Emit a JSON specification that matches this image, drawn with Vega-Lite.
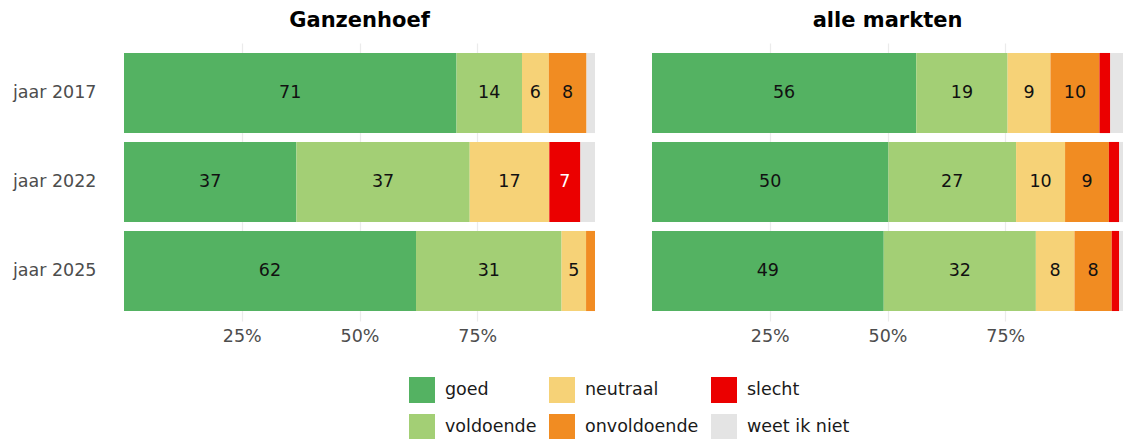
{
  "$schema": "https://vega.github.io/schema/vega-lite/v6.json",
  "padding": {"left": 12, "top": 10, "right": 0, "bottom": 0},
  "data": {"values": [
    {"markt": "Ganzenhoef", "jaar": "jaar 2017", "oordeel": "goed", "value": 70.6},
    {"markt": "Ganzenhoef", "jaar": "jaar 2017", "oordeel": "voldoende", "value": 13.9},
    {"markt": "Ganzenhoef", "jaar": "jaar 2017", "oordeel": "neutraal", "value": 5.7},
    {"markt": "Ganzenhoef", "jaar": "jaar 2017", "oordeel": "onvoldoende", "value": 8.0},
    {"markt": "Ganzenhoef", "jaar": "jaar 2017", "oordeel": "slecht", "value": 0},
    {"markt": "Ganzenhoef", "jaar": "jaar 2017", "oordeel": "weet ik niet", "value": 1.8},
    {"markt": "Ganzenhoef", "jaar": "jaar 2022", "oordeel": "goed", "value": 36.6},
    {"markt": "Ganzenhoef", "jaar": "jaar 2022", "oordeel": "voldoende", "value": 36.8},
    {"markt": "Ganzenhoef", "jaar": "jaar 2022", "oordeel": "neutraal", "value": 16.9},
    {"markt": "Ganzenhoef", "jaar": "jaar 2022", "oordeel": "onvoldoende", "value": 0},
    {"markt": "Ganzenhoef", "jaar": "jaar 2022", "oordeel": "slecht", "value": 6.6},
    {"markt": "Ganzenhoef", "jaar": "jaar 2022", "oordeel": "weet ik niet", "value": 3.1},
    {"markt": "Ganzenhoef", "jaar": "jaar 2025", "oordeel": "goed", "value": 62.0},
    {"markt": "Ganzenhoef", "jaar": "jaar 2025", "oordeel": "voldoende", "value": 30.9},
    {"markt": "Ganzenhoef", "jaar": "jaar 2025", "oordeel": "neutraal", "value": 5.2},
    {"markt": "Ganzenhoef", "jaar": "jaar 2025", "oordeel": "onvoldoende", "value": 1.9},
    {"markt": "Ganzenhoef", "jaar": "jaar 2025", "oordeel": "slecht", "value": 0},
    {"markt": "Ganzenhoef", "jaar": "jaar 2025", "oordeel": "weet ik niet", "value": 0},
    {"markt": "alle markten", "jaar": "jaar 2017", "oordeel": "goed", "value": 56.1},
    {"markt": "alle markten", "jaar": "jaar 2017", "oordeel": "voldoende", "value": 19.4},
    {"markt": "alle markten", "jaar": "jaar 2017", "oordeel": "neutraal", "value": 9.1},
    {"markt": "alle markten", "jaar": "jaar 2017", "oordeel": "onvoldoende", "value": 10.4},
    {"markt": "alle markten", "jaar": "jaar 2017", "oordeel": "slecht", "value": 2.3},
    {"markt": "alle markten", "jaar": "jaar 2017", "oordeel": "weet ik niet", "value": 2.7},
    {"markt": "alle markten", "jaar": "jaar 2022", "oordeel": "goed", "value": 50.2},
    {"markt": "alle markten", "jaar": "jaar 2022", "oordeel": "voldoende", "value": 27.1},
    {"markt": "alle markten", "jaar": "jaar 2022", "oordeel": "neutraal", "value": 10.4},
    {"markt": "alle markten", "jaar": "jaar 2022", "oordeel": "onvoldoende", "value": 9.3},
    {"markt": "alle markten", "jaar": "jaar 2022", "oordeel": "slecht", "value": 2.2},
    {"markt": "alle markten", "jaar": "jaar 2022", "oordeel": "weet ik niet", "value": 0.8},
    {"markt": "alle markten", "jaar": "jaar 2025", "oordeel": "goed", "value": 49.2},
    {"markt": "alle markten", "jaar": "jaar 2025", "oordeel": "voldoende", "value": 32.3},
    {"markt": "alle markten", "jaar": "jaar 2025", "oordeel": "neutraal", "value": 8.2},
    {"markt": "alle markten", "jaar": "jaar 2025", "oordeel": "onvoldoende", "value": 7.9},
    {"markt": "alle markten", "jaar": "jaar 2025", "oordeel": "slecht", "value": 1.6},
    {"markt": "alle markten", "jaar": "jaar 2025", "oordeel": "weet ik niet", "value": 0.8}
  ]},
  "transform": [
    {"calculate": "indexof(['goed','voldoende','neutraal','onvoldoende','slecht','weet ik niet'], datum.oordeel)", "as": "k"},
    {"stack": "value", "groupby": ["markt", "jaar"], "sort": [{"field": "k", "order": "ascending"}], "as": ["x0", "x1"]},
    {"calculate": "(datum.x0 + datum.x1) / 2", "as": "mid"}
  ],
  "facet": {
    "column": {"field": "markt", "type": "nominal", "title": null, "sort": ["Ganzenhoef", "alle markten"],
      "header": {"labelFontSize": 21, "labelFontWeight": "bold", "labelColor": "#000000", "labelPadding": 12}}
  },
  "spacing": 56,
  "spec": {
    "width": 471,
    "height": 278,
    "encoding": {
      "y": {"field": "jaar", "type": "nominal", "title": null,
        "scale": {"paddingInner": 0.1, "paddingOuter": 0.112},
        "axis": {"domain": false, "ticks": false, "labelFontSize": 17.5, "labelColor": "#4d4d4d", "labelPadding": 28}}
    },
    "layer": [
      {
        "mark": {"type": "bar"},
        "encoding": {
          "x": {"field": "x0", "type": "quantitative", "title": null,
            "scale": {"domain": [0, 100], "nice": false, "zero": true},
            "axis": {"values": [25, 50, 75], "labelExpr": "datum.value + '%'", "domain": false, "ticks": false,
              "grid": true, "gridColor": "#ebebeb", "gridWidth": 1.2, "labelFontSize": 17.5, "labelColor": "#4d4d4d", "labelPadding": 6}},
          "x2": {"field": "x1"},
          "color": {"field": "oordeel", "type": "nominal", "title": null,
            "scale": {"domain": ["goed", "voldoende", "neutraal", "onvoldoende", "slecht", "weet ik niet"],
              "range": ["#54b262", "#a3cf75", "#f6d277", "#f18c22", "#eb0000", "#e4e4e4"]},
            "legend": {"orient": "none", "legendX": 285, "legendY": 334, "columns": 3, "symbolType": "square", "symbolSize": 676, "symbolStrokeWidth": 0,
              "symbolOpacity": 1, "labelFontSize": 17.5, "labelColor": "#1a1a1a", "rowPadding": 11, "columnPadding": 12,
              "labelOffset": 10}}
        }
      },
      {
        "transform": [{"filter": "datum.value >= 5"}],
        "mark": {"type": "text", "fontSize": 17.5, "baseline": "middle", "align": "center"},
        "encoding": {
          "x": {"field": "mid", "type": "quantitative"},
          "text": {"field": "value", "type": "quantitative", "format": ".0f"},
          "color": {"condition": {"test": "datum.oordeel === 'slecht'", "value": "#ffffff"}, "value": "#111111"}
        }
      }
    ]
  },
  "config": {
    "font": "DejaVu Sans",
    "view": {"stroke": null},
    "axis": {"gridColor": "#ebebeb"}
  }
}
